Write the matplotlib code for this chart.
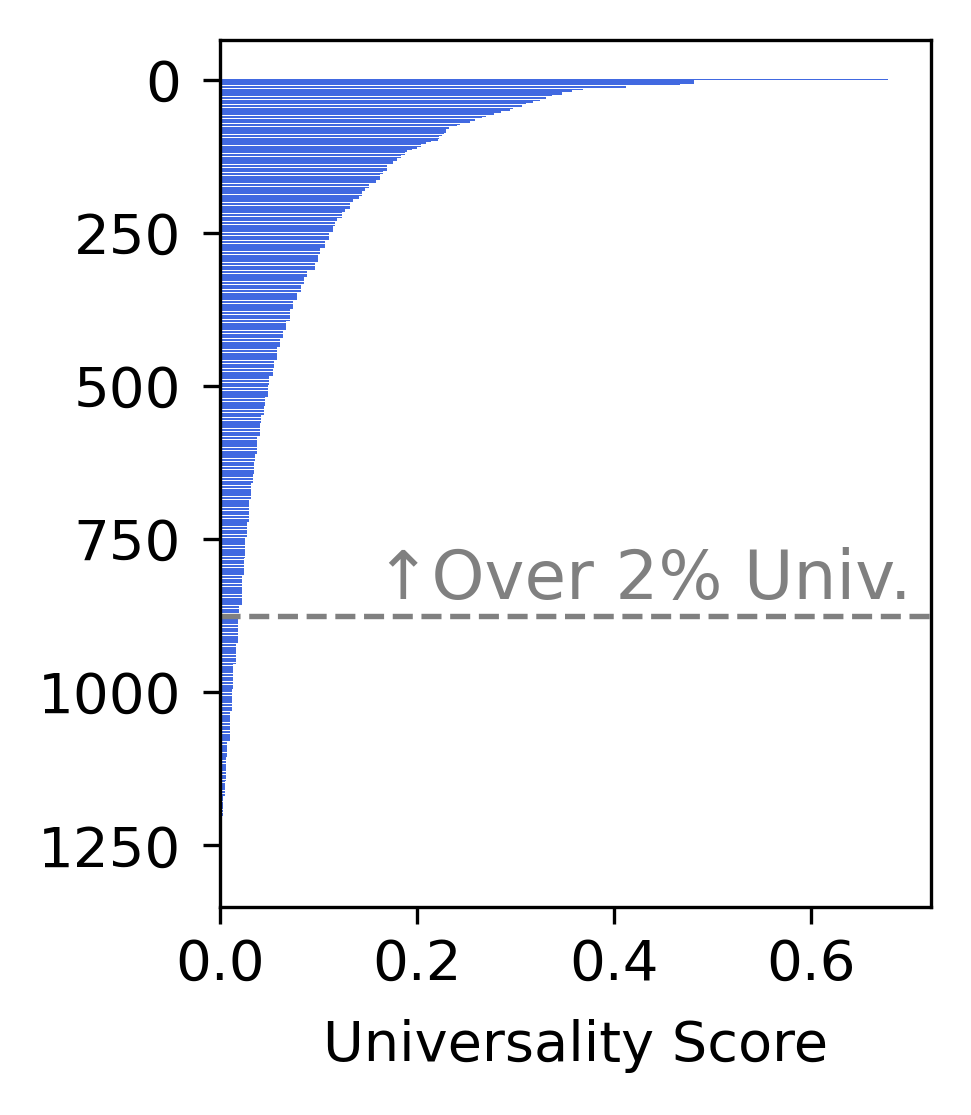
import numpy as np
import matplotlib
matplotlib.use("Agg")
import matplotlib.pyplot as plt

# scores: (value, number of items with ~that value), sorted descending
run_values = [
    0.678, 0.481, 0.467, 0.412, 0.369, 0.357, 0.347, 0.337, 0.331, 0.325,
    0.318, 0.311, 0.307, 0.298, 0.294, 0.285, 0.278, 0.270, 0.266, 0.259,
    0.254, 0.244, 0.241, 0.233, 0.230, 0.229, 0.227, 0.225, 0.222, 0.221,
    0.214, 0.209, 0.204, 0.200, 0.195, 0.190, 0.188, 0.184, 0.180, 0.176,
    0.170, 0.166, 0.162, 0.158, 0.151, 0.147, 0.144, 0.141, 0.135, 0.132,
    0.127, 0.124, 0.119, 0.117, 0.115, 0.111, 0.107, 0.102, 0.0995, 0.096,
    0.088, 0.085, 0.082, 0.078, 0.074, 0.071, 0.067, 0.0636, 0.061, 0.058,
    0.0551, 0.0535, 0.050, 0.0487, 0.0457, 0.0443, 0.042, 0.041, 0.0379, 0.0372,
    0.0359, 0.0342, 0.0335, 0.0315, 0.0294, 0.0277, 0.0257, 0.0239, 0.022, 0.0197,
    0.0178, 0.016, 0.0136, 0.0125, 0.0118, 0.0099, 0.0075, 0.0057, 0.0050, 0.0030,
    0.0,
]
run_counts = [
    1, 6, 4, 3, 3, 3, 5, 4, 3, 3,
    4, 3, 3, 3, 4, 3, 3, 3, 4, 3,
    3, 3, 3, 4, 3, 3, 3, 3, 4, 3,
    3, 3, 4, 3, 3, 3, 4, 6, 4, 6,
    10, 6, 9, 5, 8, 5, 8, 5, 6, 10,
    5, 10, 7, 6, 12, 12, 12, 12, 12, 14,
    10, 12, 12, 14, 14, 20, 16, 12, 14, 22,
    13, 13, 14, 20, 15, 14, 13, 22, 15, 13,
    14, 20, 14, 28, 36, 26, 33, 28, 50, 21,
    40, 34, 40, 16, 20, 50, 26, 38, 25, 33,
    84,
]

threshold_rank = 876  # last item above 2% universality
label_text = "\u2191Over 2% Univ."

scores = np.repeat(run_values, run_counts)
ranks = np.arange(len(scores))

fig = plt.figure(figsize=(971 / 300, 1115 / 300), dpi=300)
ax = fig.add_axes([220 / 971, 1 - 907 / 1115, 711 / 971, 867 / 1115])

ax.barh(ranks, scores, color="royalblue")
ax.invert_yaxis()
ax.set_xlim(0, 0.722)
ax.axhline(threshold_rank, color="gray", linestyle="--", linewidth=1.3)
ax.text(0.702, threshold_rank - 28, label_text, color="gray", fontsize=16.2,
        ha="right", va="baseline")

ax.set_yticks([0, 250, 500, 750, 1000, 1250])
ax.set_xticks([0.0, 0.2, 0.4, 0.6])
ax.tick_params(labelsize=13.5, length=4)
ax.tick_params(axis="y", pad=5.4)
ax.set_xlabel("Universality Score", fontsize=13.4, labelpad=6.5)

fig.savefig("out.png", dpi=300)
